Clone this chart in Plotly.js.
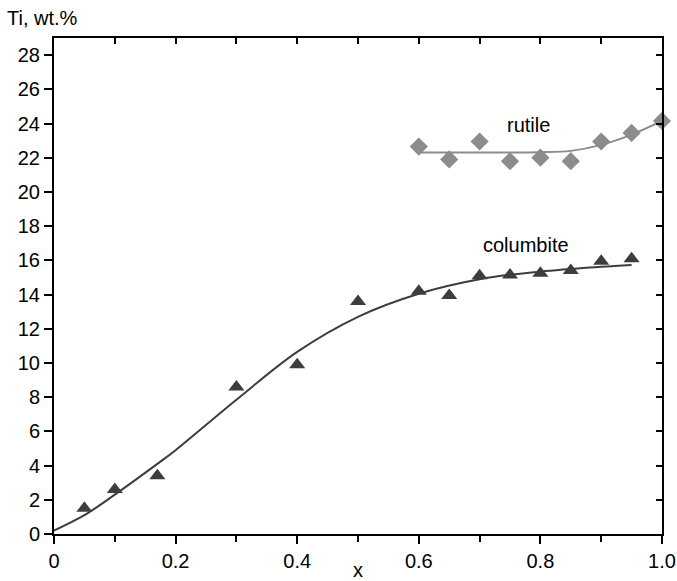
<!DOCTYPE html>
<html>
<head>
<meta charset="utf-8">
<script src="https://cdn.plot.ly/plotly-3.0.1.min.js"></script>
<style>html,body{margin:0;padding:0;background:#fff}#chart{width:677px;height:581px}</style>
</head>
<body>
<div id="chart"></div>
<script>
// Measured data
const columbiteX = [0.05, 0.10, 0.17, 0.30, 0.40, 0.50, 0.60, 0.65, 0.70, 0.75, 0.80, 0.85, 0.90, 0.95];
const columbiteY = [1.5, 2.6, 3.4, 8.6, 9.9, 13.6, 14.2, 13.95, 15.1, 15.15, 15.25, 15.4, 15.95, 16.1];
const rutileX = [0.60, 0.65, 0.70, 0.75, 0.80, 0.85, 0.90, 0.95, 1.00];
const rutileY = [22.65, 21.9, 22.95, 21.8, 22.0, 21.8, 22.95, 23.45, 24.15];
// Fit curves
const columbiteFitX = [0.0, 0.05, 0.10, 0.17, 0.20, 0.30, 0.40, 0.50, 0.60, 0.70, 0.80, 0.90, 0.95];
const columbiteFitY = [0.2, 1.1, 2.3, 4.1, 4.9, 7.85, 10.65, 12.7, 14.05, 14.9, 15.34, 15.62, 15.73];
const rutileFitX = [0.60, 0.70, 0.80, 0.85, 0.90, 0.95, 1.00];
const rutileFitY = [22.3, 22.3, 22.32, 22.4, 22.75, 23.35, 24.15];
const xTickVals = [0, 0.2, 0.4, 0.6, 0.8, 1.0];
const xTickText = ['0', '0.2', '0.4', '0.6', '0.8', '1.0'];
const labelNames = ['rutile', 'columbite'];
const labelX = [0.78, 0.777];
const labelY = [23.9, 16.9];

const dark = '#3d3d3d', light = '#8c8c8c';
const traces = [
  {x: columbiteFitX, y: columbiteFitY, mode: 'lines', line: {color: dark, width: 2, shape: 'spline', smoothing: 1}, hoverinfo: 'skip'},
  {x: rutileFitX, y: rutileFitY, mode: 'lines', line: {color: light, width: 2, shape: 'spline', smoothing: 1}, hoverinfo: 'skip'},
  {x: columbiteX, y: columbiteY, mode: 'markers', marker: {symbol: 'triangle-up', size: 14, color: dark}},
  {x: rutileX, y: rutileY, mode: 'markers', marker: {symbol: 'diamond', size: 14, color: light}, cliponaxis: false},
  {x: [0.5], y: [10], xaxis: 'x2', yaxis: 'y2', mode: 'markers', marker: {opacity: 0}, hoverinfo: 'skip'}
];
const font = {family: 'Liberation Sans, Arial, sans-serif', size: 20, color: '#000'};
const layout = {
  width: 677, height: 581,
  margin: {l: 54, r: 15, t: 38, b: 47},
  showlegend: false,
  paper_bgcolor: '#fff', plot_bgcolor: '#fff',
  font: font,
  xaxis: {
    range: [0, 1], tickvals: xTickVals, ticktext: xTickText,
    ticks: 'outside', ticklen: 8, tickwidth: 2, tickcolor: '#000',
    minor: {dtick: 0.1, tick0: 0, ticks: 'outside', ticklen: 6, tickwidth: 2, tickcolor: '#000'},
    showline: true, linewidth: 2, linecolor: '#000',
    showgrid: false, zeroline: false, tickfont: font,
    title: {text: 'x', font: font, standoff: 0}
  },
  yaxis: {
    range: [0, 29], tick0: 0, dtick: 2,
    ticks: 'outside', ticklen: 8, tickwidth: 2, tickcolor: '#000',
    showline: true, linewidth: 2, linecolor: '#000',
    showgrid: false, zeroline: false, tickfont: font
  },
  xaxis2: {
    overlaying: 'x', side: 'top', range: [0, 1], tick0: 0, dtick: 0.1,
    ticks: 'inside', ticklen: 6, tickwidth: 2, tickcolor: '#000',
    showticklabels: false, showline: true, linewidth: 2, linecolor: '#000',
    showgrid: false, zeroline: false
  },
  yaxis2: {
    overlaying: 'y', side: 'right', range: [0, 29], tick0: 0, dtick: 2,
    ticks: 'inside', ticklen: 6, tickwidth: 2, tickcolor: '#000',
    showticklabels: false, showline: true, linewidth: 2, linecolor: '#000',
    showgrid: false, zeroline: false
  },
  annotations: [
    {text: 'Ti, wt.%', xref: 'paper', yref: 'paper', x: -0.08, y: 1.04, xanchor: 'left', yanchor: 'middle', showarrow: false, font: font},
    {text: labelNames[0], x: labelX[0], y: labelY[0], xref: 'x', yref: 'y', showarrow: false, font: font},
    {text: labelNames[1], x: labelX[1], y: labelY[1], xref: 'x', yref: 'y', showarrow: false, font: font}
  ]
};
Plotly.newPlot('chart', traces, layout, {displayModeBar: false, staticPlot: true});
</script>
</body>
</html>
